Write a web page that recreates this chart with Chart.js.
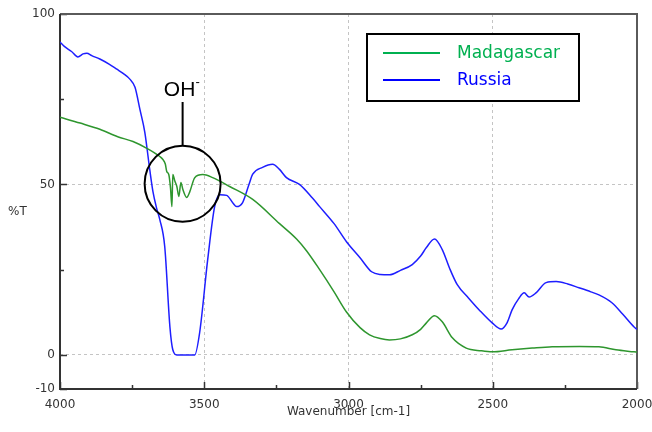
<!DOCTYPE html>
<html>
<head>
<meta charset="utf-8">
<script src="https://cdn.jsdelivr.net/npm/chart.js@4.4.1/dist/chart.umd.min.js"></script>
<style>
    html, body { margin: 0; padding: 0; background: #ffffff; }
    #wrap { width: 652px; height: 432px; position: relative; }
</style>
</head>
<body>
<div id="wrap"><canvas id="irChart"></canvas></div>
<script>
// wavenumber (cm-1) and transmittance (%T)
const madagascarWn = [4000, 3930, 3862, 3800, 3747, 3699, 3654, 3644, 3635, 3630, 3623, 3617, 3612, 3609, 3602, 3595, 3588, 3581, 3574, 3561, 3550, 3533, 3505, 3471, 3412, 3332, 3239, 3180, 3145, 3100, 3050, 3007, 2960, 2927, 2890, 2858, 2820, 2779, 2750, 2730, 2702, 2675, 2640, 2592, 2540, 2502, 2433, 2363, 2294, 2200, 2132, 2073, 2010, 2000];
const madagascarT = [69.7, 68, 66.2, 64, 62.6, 60.6, 58.2, 57.4, 56, 53.8, 52.9, 49, 43.5, 52.9, 51, 49.4, 46.5, 50.6, 48.5, 46.2, 47.9, 52, 52.9, 52, 49.4, 45.6, 38.5, 34, 30.5, 25, 18.5, 12.6, 8, 5.9, 4.8, 4.4, 4.7, 5.9, 7.5, 9.4, 11.5, 9.7, 5, 2, 1.2, 0.9, 1.5, 2, 2.4, 2.5, 2.4, 1.5, 0.9, 0.8];

const russiaWn = [4000, 3985, 3960, 3938, 3920, 3907, 3890, 3862, 3830, 3803, 3780, 3758, 3740, 3723, 3706, 3689, 3678, 3665, 3654, 3637, 3619, 3609, 3595, 3533, 3516, 3488, 3464, 3446, 3422, 3400, 3388, 3367, 3345, 3332, 3298, 3263, 3240, 3215, 3170, 3125, 3100, 3050, 3007, 2960, 2920, 2890, 2858, 2820, 2779, 2750, 2730, 2702, 2675, 2650, 2623, 2585, 2547, 2502, 2471, 2450, 2433, 2410, 2391, 2374, 2350, 2315, 2280, 2240, 2201, 2160, 2132, 2087, 2050, 2010, 2000];
const russiaT = [91.8, 90.5, 89, 87.4, 88.3, 88.5, 87.8, 86.8, 85.3, 83.8, 82.5, 80.9, 78.5, 72, 65.3, 54.4, 48, 43, 39.7, 31.8, 8.2, 1.5, 0, 0, 6.5, 28, 43.5, 47, 46.8, 44.5, 43.5, 44.7, 50, 53, 55, 55.9, 54.5, 52, 50, 46, 43.5, 38.5, 33.2, 28.5, 24.4, 23.6, 23.5, 24.8, 26.5, 29, 31.5, 34, 30.9, 25.5, 20.6, 16.8, 13.2, 9.4, 7.6, 9.5, 13.2, 16.5, 18.2, 17, 18.2, 21.2, 21.5, 20.8, 19.7, 18.5, 17.6, 15.3, 12, 8.2, 7.5];

const seriesNames = ['Madagascar', 'Russia'];

const wnTicks = [4000, 3750, 3500, 3250, 3000, 2750, 2500, 2250, 2000];
const wnLabels = [4000, 3500, 3000, 2500, 2000];
const wnGrid = [3500, 3000, 2500];
const tTicks = [-10, 0, 25, 50, 75, 100];
const tLabels = [-10, 0, 50, 100];
const tGrid = [0, 50];

const curveColors = ['#2e962e', '#1e1eff'];
const legendColors = ['#00b050', '#0000ff'];

Chart.defaults.font.family = '"DejaVu Sans", Verdana, sans-serif';
Chart.defaults.font.size = 12;
Chart.defaults.color = '#333333';

function toPoints(xs, ys) {
    return xs.map((x, i) => ({ x: x, y: ys[i] }));
}

// box around plot + inward tick marks
const framePlugin = {
    id: 'frame',
    beforeDatasetsDraw(chart) {
        const { ctx, chartArea: a, scales } = chart;
        ctx.save();
        ctx.strokeStyle = '#333333';
        ctx.lineWidth = 1.5;
        wnTicks.forEach(v => {
            const px = Math.round(scales.x.getPixelForValue(v)) + 0.5;
            const len = wnLabels.includes(v) ? 7 : 4;
            ctx.beginPath();
            ctx.moveTo(px, a.bottom);
            ctx.lineTo(px, a.bottom - len);
            ctx.stroke();
        });
        tTicks.forEach(v => {
            const py = Math.round(scales.y.getPixelForValue(v)) + 0.5;
            const len = tLabels.includes(v) ? 7 : 4;
            ctx.beginPath();
            ctx.moveTo(a.left, py);
            ctx.lineTo(a.left + len, py);
            ctx.stroke();
        });
        ctx.lineWidth = 2;
        ctx.strokeStyle = '#5a5a5a';
        ctx.beginPath();
        ctx.moveTo(a.left, a.top);
        ctx.lineTo(a.right, a.top);
        ctx.lineTo(a.right, a.bottom);
        ctx.stroke();
        ctx.strokeStyle = '#333333';
        ctx.beginPath();
        ctx.moveTo(a.left, a.top);
        ctx.lineTo(a.left, a.bottom);
        ctx.lineTo(a.right, a.bottom);
        ctx.stroke();
        ctx.restore();
    }
};

// y title, legend box and the OH- marker
const notesPlugin = {
    id: 'notes',
    afterDraw(chart) {
        const { ctx, scales } = chart;
        ctx.save();

        ctx.fillStyle = '#333333';
        ctx.font = '12px "DejaVu Sans"';
        ctx.textAlign = 'left';
        ctx.textBaseline = 'middle';
        ctx.fillText('%T', 8, 212);

        // legend
        ctx.fillStyle = '#ffffff';
        ctx.fillRect(367, 34, 212, 67);
        ctx.strokeStyle = '#000000';
        ctx.lineWidth = 2;
        ctx.strokeRect(367, 34, 212, 67);
        ctx.font = '17px "DejaVu Sans"';
        chart.data.datasets.forEach((ds, i) => {
            const y = 53 + i * 27;
            ctx.strokeStyle = legendColors[i];
            ctx.lineWidth = 2;
            ctx.beginPath();
            ctx.moveTo(383, y);
            ctx.lineTo(440, y);
            ctx.stroke();
            ctx.fillStyle = legendColors[i];
            ctx.fillText(ds.label, 457, y + 1);
        });

        // OH- circle
        const cx = scales.x.getPixelForValue(3575);
        const cy = scales.y.getPixelForValue(50.2);
        const r = 38;
        ctx.strokeStyle = '#000000';
        ctx.lineWidth = 2;
        ctx.beginPath();
        ctx.arc(cx, cy, r, 0, Math.PI * 2);
        ctx.stroke();
        ctx.beginPath();
        ctx.moveTo(cx, cy - r);
        ctx.lineTo(cx, 102);
        ctx.stroke();
        ctx.fillStyle = '#000000';
        ctx.font = '21px "Liberation Sans"';
        ctx.textAlign = 'center';
        ctx.textBaseline = 'alphabetic';
        ctx.fillText('OH', cx - 3, 96);
        ctx.font = '13px "Liberation Sans"';
        ctx.textAlign = 'left';
        ctx.fillText('-', cx + 13, 86);

        ctx.restore();
    }
};

new Chart(document.getElementById('irChart'), {
    type: 'line',
    data: {
        datasets: seriesNames.map((name, i) => ({
            label: name,
            data: i === 0 ? toPoints(madagascarWn, madagascarT) : toPoints(russiaWn, russiaT),
            borderColor: curveColors[i],
            borderWidth: 1.5,
            pointRadius: 0,
            fill: false,
            cubicInterpolationMode: 'monotone'
        }))
    },
    options: {
        responsive: true,
        maintainAspectRatio: false,
        animation: false,
        layout: { padding: { top: 14, right: 15, bottom: 0, left: 0 } },
        plugins: {
            legend: { display: false },
            tooltip: { enabled: false }
        },
        scales: {
            x: {
                type: 'linear',
                reverse: true,
                min: 2000,
                max: 4000,
                afterBuildTicks: scale => { scale.ticks = wnTicks.map(v => ({ value: v })); },
                afterFit: scale => {
                    scale.height = 43;
                    scale.paddingLeft = 0;
                    scale.paddingRight = 0;
                },
                ticks: {
                    autoSkip: false,
                    maxRotation: 0,
                    padding: 9,
                    color: '#333333',
                    callback: v => wnLabels.includes(v) ? String(v) : ''
                },
                grid: {
                    drawTicks: false,
                    lineWidth: 1,
                    color: c => (c.tick && wnGrid.includes(c.tick.value)) ? '#c4c4c4' : 'rgba(0,0,0,0)'
                },
                border: { display: false, dash: [3, 3] },
                title: {
                    display: true,
                    text: 'Wavenumber [cm-1]',
                    color: '#333333',
                    font: { size: 12 },
                    padding: { top: 0, bottom: 13 }
                }
            },
            y: {
                type: 'linear',
                min: -10,
                max: 100,
                afterBuildTicks: scale => { scale.ticks = tTicks.map(v => ({ value: v })); },
                afterFit: scale => {
                    scale.width = 60;
                    scale.paddingTop = 0;
                    scale.paddingBottom = 0;
                },
                ticks: {
                    autoSkip: false,
                    padding: 5,
                    color: '#333333',
                    callback: v => tLabels.includes(v) ? String(v) : ''
                },
                grid: {
                    drawTicks: false,
                    lineWidth: 1,
                    color: c => (c.tick && tGrid.includes(c.tick.value)) ? '#c4c4c4' : 'rgba(0,0,0,0)'
                },
                border: { display: false, dash: [3, 3] }
            }
        }
    },
    plugins: [framePlugin, notesPlugin]
});
</script>
</body>
</html>
